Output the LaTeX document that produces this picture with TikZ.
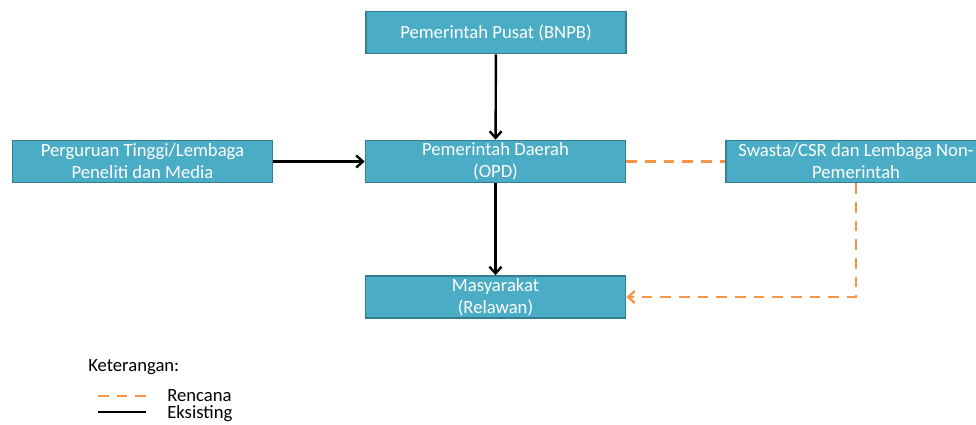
\documentclass[tikz,border=0pt]{standalone}
\usepackage{fontspec}
\setmainfont{Carlito}
\usepackage{tikz}
\usetikzlibrary{arrows.meta,positioning}
\definecolor{boxfill}{HTML}{4BACC6}
\definecolor{boxline}{HTML}{357D91}
\definecolor{planorange}{HTML}{F79646}

\begin{document}
\begin{tikzpicture}[x=0.75pt,y=-0.75pt,
    unit/.style={draw=boxline, line width=1.2pt, fill=boxfill, text=white,
      minimum width=195pt, minimum height=31.5pt, inner sep=0pt,
      align=center, font=\fontsize{14}{16.5}\selectfont},
    legendtext/.style={anchor=west, inner sep=0pt, font=\fontsize{14}{16.5}\selectfont},
    existing/.style={line width=1.8pt, -{Straight Barb[length=5pt,width=9pt]}},
    planned/.style={planorange, line width=1.8pt, dash pattern=on 8pt off 6pt}]
            \useasboundingbox (0,0) rectangle (976,425);
            % Units
            \node[unit] (pusat) at (496,32.5) {Pemerintah Pusat (BNPB)};
            \node[unit] (pt) at (142.5,161.5) {Perguruan Tinggi/Lembaga\\Peneliti dan Media};
            \node[unit] (daerah) at (495.5,161.5) {Pemerintah Daerah\\(OPD)};
            \node[unit] (swasta) at (856,161.5) {Swasta/CSR dan Lembaga Non-\\Pemerintah};
            \node[unit] (masyarakat) at (495.5,297) {Masyarakat\\(Relawan)};
            % Existing links
            \draw[existing] (pusat) -- (daerah);
            \draw[existing] (pt) -- (daerah);
            \draw[existing] (daerah) -- (masyarakat);
            % Planned links
            \draw[planned] (daerah) -- (swasta);
            \draw[planned, -{Straight Barb[length=5pt,width=9pt]}] (swasta.south) |- (masyarakat.east);
            % Legend
            \node[legendtext] (keterangan) at (88,367) {Keterangan:};
            \coordinate (rA) at (98,396);
            \coordinate (rB) at (146,396);
            \coordinate (eA) at (98,412);
            \coordinate (eB) at (146,412);
            \draw[planned] (rA) -- (rB);
            \draw[line width=1.8pt] (eA) -- (eB);
            \node[legendtext] (rencana) at (167,396) {Rencana};
            \node[legendtext] (eksisting) at (167,414) {Eksisting};
\end{tikzpicture}
\end{document}
